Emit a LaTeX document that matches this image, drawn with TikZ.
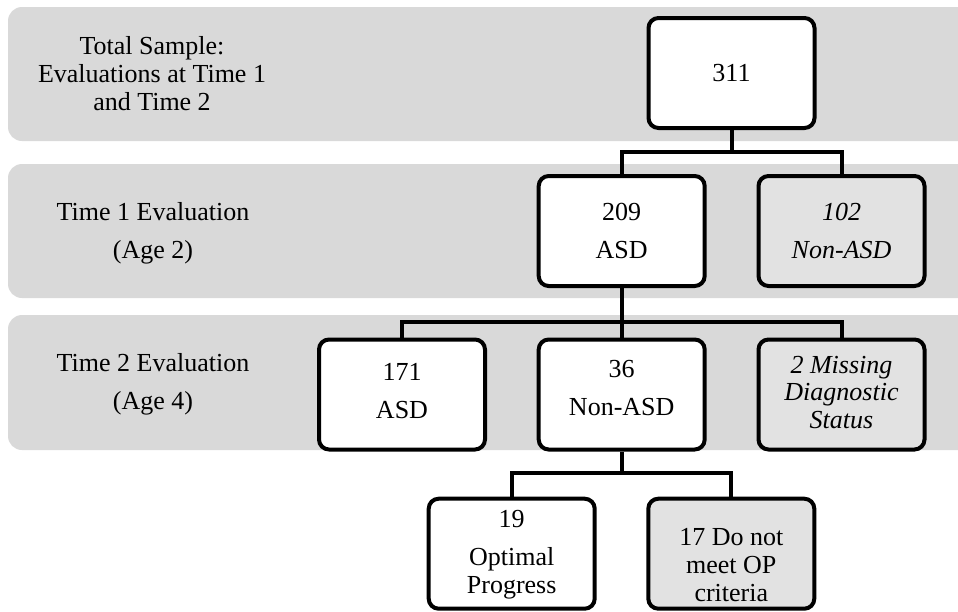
\documentclass[tikz,border=0pt]{standalone}
\usepackage{fontspec}
\setmainfont{Liberation Serif}
\definecolor{bandgray}{RGB}{217,217,217}
\definecolor{boxgray}{RGB}{226,226,226}
\begin{document}
\begin{tikzpicture}[x=1pt,y=-1pt,
  band/.style={fill=bandgray,draw=none,rounded corners=14pt},
  box/.style={draw=black,line width=4pt,rounded corners=10pt,minimum width=166pt,minimum height=110pt,inner sep=0pt,fill=white},
  graybox/.style={box,fill=boxgray},
  txt/.style={align=center,font=\fontsize{26}{28}\selectfont,inner sep=0pt},
  conn/.style={draw=black,line width=4pt}]
\useasboundingbox (0,0) rectangle (958,611);
\clip (0,0) rectangle (958,611);
% bands
\path[band] (8,7) rectangle (990,141);
\path[band] (8,164) rectangle (990,298);
\path[band] (8,315) rectangle (990,450);
% row labels
\node[txt] (l1) at (152,74) {Total Sample:\\Evaluations at Time 1\\and Time 2};
\node[txt] (l2) at (153,233) {Time 1 Evaluation\\[10pt](Age 2)};
\node[txt] (l3) at (153,384) {Time 2 Evaluation\\[10pt](Age 4)};
% junction levels
\coordinate (j1) at (0,152);
\coordinate (j2) at (0,322);
\coordinate (j3) at (0,473);
% boxes
\node[box] (b311) at (731.5,73) {};
\node[box] (b209) at (621.7,231) {};
\node[graybox] (b102) at (841.5,231) {};
\node[box] (b171) at (402,394.5) {};
\node[box] (b36) at (621.7,394.5) {};
\node[graybox] (bmiss) at (841.5,394.5) {};
\node[box] (b19) at (511.7,553.7) {};
\node[graybox] (b17) at (731.3,553.7) {};
% connectors
\draw[conn] (b311.south) -- (b311.south|-j1) -| (b209.north);
\draw[conn] (b311.south|-j1) -| (b102.north);
\draw[conn] (b209.south) -- (b209.south|-j2) -| (b171.north);
\draw[conn] (b209.south|-j2) -| (bmiss.north);
\draw[conn] (b209.south|-j2) -- (b36.north);
\draw[conn] (b36.south) -- (b36.south|-j3) -| (b19.north);
\draw[conn] (b36.south|-j3) -| (b17.north);
% box texts
\node[txt] (t311) at (b311.center) {311};
\node[txt] (t209) at (b209.center) {209\\[10pt]ASD};
\node[txt] (t102) at (b102.center) {\itshape 102\\[10pt]\itshape Non-ASD};
\node[txt] (t171) at ([yshift=3pt]b171.center) {171\\[10pt]ASD};
\node[txt] (t36) at ([yshift=6pt]b36.center) {36\\[10pt]Non-ASD};
\node[txt,font=\fontsize{26}{27.5}\selectfont\itshape] (tmiss) at ([yshift=2pt]bmiss.center) {2 Missing\\Diagnostic\\Status};
\node[txt] (t19) at ([yshift=-1pt]b19.center) {19\\[10pt]Optimal\\Progress};
\node[txt] (t17) at ([yshift=-11pt]b17.center) {17 Do not\\meet OP\\criteria};
\end{tikzpicture}
\end{document}
